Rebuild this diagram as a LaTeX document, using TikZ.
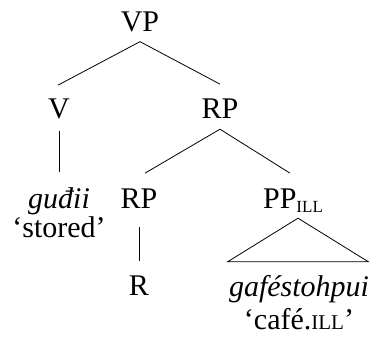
\documentclass[tikz,border=0pt]{standalone}
\usepackage{fontspec}
\setmainfont{Liberation Serif}
% small capitals imitated with scaled capitals
\newcommand{\fakesc}[1]{{\fontsize{21}{21}\selectfont #1}}
\newcommand{\lowsc}[1]{\raisebox{-4pt}{\fontsize{17}{17}\selectfont #1}}
\begin{document}
\begin{tikzpicture}[x=1pt,y=-1pt,
  every node/.style={inner sep=0pt, anchor=base, font=\fontsize{30}{30}\selectfont},
  branch/.style={line width=0.8pt}]
\useasboundingbox (0,0) rectangle (376,340);

% categories and words
\node (vp) at (140,31) {VP};
\node (v) at (59,118) {V};
\node (rp) at (220,118) {RP};
\node (gudii) at (59,208) {\itshape guđii};
\node (stored) at (59,237) {‘stored’};
\node (rpl) at (139,208) {RP};
\node (pp) at (293,208) {PP\lowsc{ILL}};
\node (r) at (139,295) {R};
\node (gaf) at (299,296) {\itshape gaféstohpui};
\node (cafe) at (299,330) {‘café.\fakesc{ILL}’};

% branches
\draw[branch] ([yshift=-10pt]vp.south) -- ([xshift=-1pt,yshift=13pt]v.north);
\draw[branch] ([yshift=-10pt]vp.south) -- ([yshift=14pt]rp.north);
\draw[branch] ([yshift=-12pt]v.south) -- ([yshift=15pt]gudii.north);
\draw[branch] ([yshift=-11pt]rp.south) -- ([xshift=6pt,yshift=15pt]rpl.north);
\draw[branch] ([yshift=-11pt]rp.south) -- ([xshift=-3pt,yshift=15pt]pp.north);
\draw[branch] ([yshift=-19pt]rpl.south) -- ([yshift=14pt]r.north);

% triangle over the phrase
\coordinate (apex) at ([xshift=5pt,yshift=-6pt]pp.south);
\draw[branch] (apex) -- ([xshift=-1pt,yshift=13pt]gaf.north west)
  -- ([xshift=-1pt,yshift=13pt]gaf.north east) -- cycle;
\end{tikzpicture}
\end{document}
